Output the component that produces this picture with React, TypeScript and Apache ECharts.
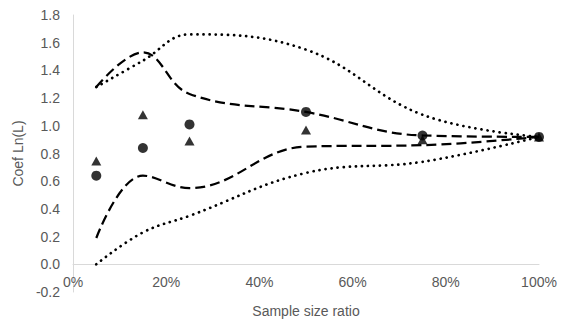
import React, { useEffect, useRef } from "react";
import * as echarts from "echarts";

const xRatios = [5, 15, 25, 50, 75, 100];
const dashedUpper = [1.28, 1.53, 1.23, 1.1, 0.93, 0.92];
const dashedLower = [0.19, 0.64, 0.55, 0.85, 0.86, 0.92];
const dottedUpper = [1.28, 1.47, 1.66, 1.55, 1.08, 0.92];
const dottedLower = [0.0, 0.23, 0.35, 0.66, 0.74, 0.92];
const circles = [0.64, 0.84, 1.01, 1.1, 0.93, 0.92];
const triangles = [0.745, 1.08, 0.89, 0.97, 0.9, 0.92];

const pair = (ys: number[]) => xRatios.map((x, i) => [x, ys[i]]);

export default function App() {
  const ref = useRef<HTMLDivElement>(null);
  useEffect(() => {
    if (!ref.current) return;
    const chart = echarts.init(ref.current, null, { renderer: "svg" });
    const font = "Liberation Sans, Arial, sans-serif";
    const labelColor = "#595959";
    const dashed = { type: [10, 5], width: 2.25, color: "#000" } as any;
    const dotted = { type: [0.1, 6], width: 2.7, color: "#000", cap: "round" } as any;
    chart.setOption({
      animation: false,
      grid: { left: 73, right: 26, top: 15, bottom: 35 },
      xAxis: {
        type: "value",
        min: 0,
        max: 100,
        interval: 20,
        offset: -28,
        name: "Sample size ratio",
        nameLocation: "middle",
        nameGap: 40,
        nameTextStyle: { color: labelColor, fontSize: 14, fontFamily: font },
        axisLine: { show: true, onZero: false, lineStyle: { color: "#d9d9d9", width: 1 } },
        axisTick: { show: false },
        splitLine: { show: false },
        axisLabel: {
          color: labelColor,
          fontSize: 14,
          fontFamily: font,
          margin: 11,
          formatter: (v: number) => `${v}%`,
        },
      },
      yAxis: {
        type: "value",
        min: -0.2,
        max: 1.8,
        interval: 0.2,
        name: "Coef Ln(L)",
        nameLocation: "middle",
        nameGap: 45,
        nameRotate: 90,
        nameTextStyle: { color: labelColor, fontSize: 14, fontFamily: font },
        axisLine: { show: true, onZero: false, lineStyle: { color: "#d9d9d9", width: 1 } },
        axisTick: { show: false },
        splitLine: { show: false },
        axisLabel: {
          color: labelColor,
          fontSize: 14,
          fontFamily: font,
          margin: 13,
          formatter: (v: number) => v.toFixed(1),
        },
      },
      series: [
        { type: "line", data: pair(dottedUpper), smooth: 0.4, symbol: "none", lineStyle: dotted },
        { type: "line", data: pair(dottedLower), smooth: 0.4, symbol: "none", lineStyle: dotted },
        { type: "line", data: pair(dashedUpper), smooth: 0.4, symbol: "none", lineStyle: dashed },
        { type: "line", data: pair(dashedLower), smooth: 0.4, symbol: "none", lineStyle: dashed },
        {
          type: "scatter",
          data: pair(triangles),
          symbol: "triangle",
          symbolSize: [10, 9],
          itemStyle: { color: "#000" },
        },
        {
          type: "scatter",
          data: pair(circles),
          symbol: "circle",
          symbolSize: 10,
          itemStyle: { color: "#000" },
        },
      ],
    });
    return () => chart.dispose();
  }, []);
  return <div ref={ref} style={{ width: 565, height: 327, position: "absolute", left: 0, top: 0 }} />;
}
